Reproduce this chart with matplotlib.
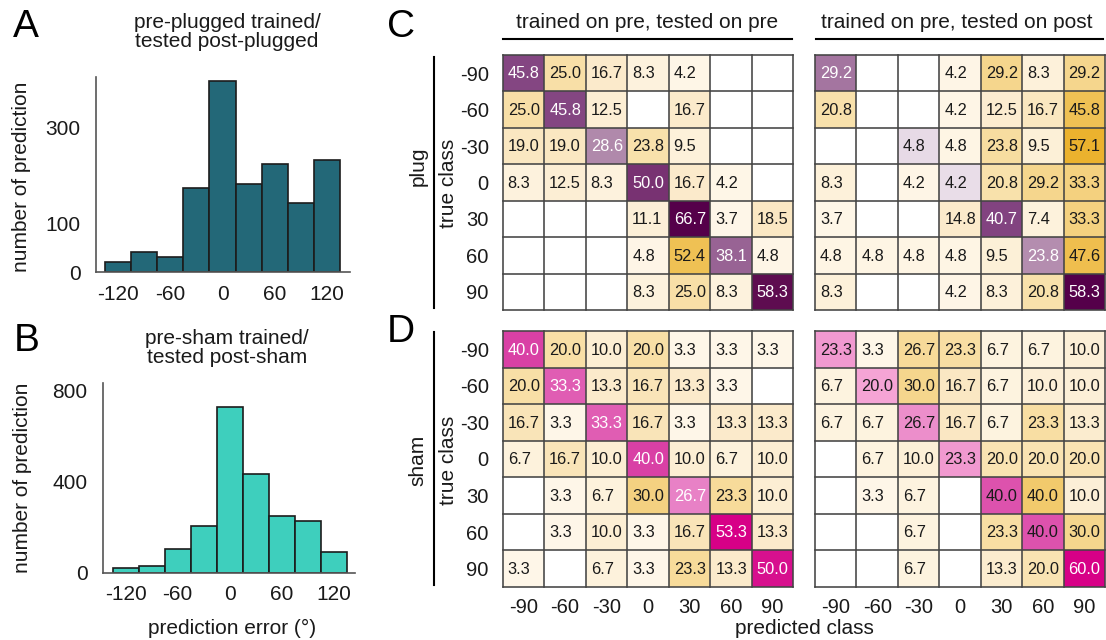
import numpy as np
import matplotlib
matplotlib.use('Agg')
import matplotlib.pyplot as plt
from matplotlib.colors import LinearSegmentedColormap, Normalize
from matplotlib.lines import Line2D

plt.rcParams['font.family'] = ['Liberation Sans', 'DejaVu Sans']

W, H = 1106, 640

# ---------------- data ----------------
hist_bins = [-120, -90, -60, -30, 0, 30, 60, 90, 120]
plug_counts = [21, 42, 31, 174, 398, 184, 224, 144, 234]
sham_counts = [22, 31, 104, 208, 728, 436, 249, 228, 94]
hist_xticks = [-120, -60, 0, 60, 120]
plug_yticks = [0, 100, 300]
sham_yticks = [0, 400, 800]

classes = [-90, -60, -30, 0, 30, 60, 90]

plug_pre = [
    [45.8, 25.0, 16.7, 8.3, 4.2, 0, 0],
    [25.0, 45.8, 12.5, 0, 16.7, 0, 0],
    [19.0, 19.0, 28.6, 23.8, 9.5, 0, 0],
    [8.3, 12.5, 8.3, 50.0, 16.7, 4.2, 0],
    [0, 0, 0, 11.1, 66.7, 3.7, 18.5],
    [0, 0, 0, 4.8, 52.4, 38.1, 4.8],
    [0, 0, 0, 8.3, 25.0, 8.3, 58.3],
]
plug_post = [
    [29.2, 0, 0, 4.2, 29.2, 8.3, 29.2],
    [20.8, 0, 0, 4.2, 12.5, 16.7, 45.8],
    [0, 0, 4.8, 4.8, 23.8, 9.5, 57.1],
    [8.3, 0, 4.2, 4.2, 20.8, 29.2, 33.3],
    [3.7, 0, 0, 14.8, 40.7, 7.4, 33.3],
    [4.8, 4.8, 4.8, 4.8, 9.5, 23.8, 47.6],
    [8.3, 0, 0, 4.2, 8.3, 20.8, 58.3],
]
sham_pre = [
    [40.0, 20.0, 10.0, 20.0, 3.3, 3.3, 3.3],
    [20.0, 33.3, 13.3, 16.7, 13.3, 3.3, 0],
    [16.7, 3.3, 33.3, 16.7, 3.3, 13.3, 13.3],
    [6.7, 16.7, 10.0, 40.0, 10.0, 6.7, 10.0],
    [0, 3.3, 6.7, 30.0, 26.7, 23.3, 10.0],
    [0, 3.3, 10.0, 3.3, 16.7, 53.3, 13.3],
    [3.3, 0, 6.7, 3.3, 23.3, 13.3, 50.0],
]
sham_post = [
    [23.3, 3.3, 26.7, 23.3, 6.7, 6.7, 10.0],
    [6.7, 20.0, 30.0, 16.7, 6.7, 10.0, 10.0],
    [6.7, 6.7, 26.7, 16.7, 6.7, 23.3, 13.3],
    [0, 6.7, 10.0, 23.3, 20.0, 20.0, 20.0],
    [0, 3.3, 6.7, 0, 40.0, 40.0, 10.0],
    [0, 0, 6.7, 0, 23.3, 40.0, 30.0],
    [0, 0, 6.7, 0, 13.3, 20.0, 60.0],
]

# ---------------- styles ----------------
off_cmap = LinearSegmentedColormap.from_list(
    'off', [(0, '#FFFAF2'), (0.125, '#FDF2DC'), (0.25, '#FBEACB'), (0.375, '#F8DFA6'),
            (0.8, '#EFC052'), (1, '#EBB02A')], N=256)
plug_cmap = LinearSegmentedColormap.from_list(
    'plug', [(0, '#F4EEF4'), (0.43, '#B088AB'), (0.7, '#824280'), (0.87, '#5E0C50'), (1, '#55004A')])
sham_cmap = LinearSegmentedColormap.from_list(
    'sham', [(0, '#FCEBF5'), (0.33, '#F5A5D5'), (0.5, '#E882C6'), (0.65, '#DE55AF'),
             (0.8, '#D737A0'), (1, '#D70087')])
grid_c = '#444444'
txt_c = '#1a1a1a'

fig = plt.figure(figsize=(W / 100, H / 100), dpi=100)


def ax_px(x0, y0, x1, y1):
    return fig.add_axes([x0 / W, 1 - y1 / H, (x1 - x0) / W, (y1 - y0) / H])


def ftext(x, y, s, **kw):
    kw.setdefault('color', txt_c)
    return fig.text(x / W, 1 - y / H, s, **kw)


def fline(xs, ys, lw=1.5):
    fig.add_artist(Line2D([x / W for x in xs], [1 - y / H for y in ys],
                          color='black', lw=lw, transform=fig.transFigure))


def hist(ax, counts, color, yticks, xlim, ylim):
    ax.bar(hist_bins, counts, width=30, color=color, edgecolor='#1c1c1c', linewidth=1.2)
    ax.set_xlim(*xlim)
    ax.set_ylim(*ylim)
    ax.set_xticks(hist_xticks)
    ax.set_xticklabels([str(t) for t in hist_xticks])
    ax.set_yticks(yticks)
    for s in ['top', 'right']:
        ax.spines[s].set_visible(False)
    for s in ['left', 'bottom']:
        ax.spines[s].set_color('#555555')
        ax.spines[s].set_linewidth(1.2)
    ax.tick_params(axis='both', length=0, labelsize=15, colors=txt_c)
    ax.tick_params(axis='x', pad=9)
    ax.tick_params(axis='y', pad=11)


def heat(ax, data, diag_cmap, white_thresh, show_x, show_y):
    M = np.array(data, float)
    n = M.shape[0]
    norm = Normalize(0, M.max())
    diag = np.eye(n, dtype=bool)
    off = np.ma.masked_where(diag | (M == 0), M)
    dg = np.ma.masked_where(~diag | (M == 0), M)
    edges = np.arange(n + 1)
    ax.pcolormesh(edges, edges, off, cmap=off_cmap, norm=norm)
    ax.pcolormesh(edges, edges, dg, cmap=diag_cmap, norm=norm)
    ax.set_xlim(0, n)
    ax.set_ylim(n, 0)
    for k in range(n + 1):
        ax.axhline(k, color=grid_c, lw=1.15, clip_on=False)
        ax.axvline(k, color=grid_c, lw=1.15, clip_on=False)
    for i in range(n):
        for j in range(n):
            v = M[i, j]
            if v > 0:
                col = 'white' if (i == j and v > white_thresh) else txt_c
                ax.text(j + 0.12, i + 0.52, f'{v:.1f}', ha='left', va='center',
                        fontsize=11.8, color=col)
    for s in ax.spines.values():
        s.set_visible(False)
    ax.set_xticks(np.arange(n) + 0.5)
    ax.set_yticks(np.arange(n) + 0.5)
    ax.set_xticklabels([str(c) for c in classes] if show_x else [])
    ax.set_yticklabels([str(c) for c in classes] if show_y else [])
    ax.tick_params(axis='both', length=0, labelsize=14.5, colors=txt_c)
    ax.tick_params(axis='x', pad=8)
    ax.tick_params(axis='y', pad=10)


# ---------------- histograms ----------------
axA = ax_px(96, 77, 350, 272)
hist(axA, plug_counts, '#236878', plug_yticks, (-145, 146), (0, 406))
axB = ax_px(103, 383, 355, 573)
hist(axB, sham_counts, '#3ECFBD', sham_yticks, (-146, 144), (0, 834))

ftext(227, 32, 'pre-plugged trained/\ntested post-plugged', ha='center', va='center',
      fontsize=15, linespacing=0.95)
ftext(227, 348, 'pre-sham trained/\ntested post-sham', ha='center', va='center',
      fontsize=15, linespacing=0.95)
ftext(22, 177, 'number of prediction', rotation=90, ha='center', va='center', fontsize=15)
ftext(23, 478, 'number of prediction', rotation=90, ha='center', va='center', fontsize=15)
ftext(232, 628, 'prediction error (°)', ha='center', va='center', fontsize=15)

# ---------------- heatmaps ----------------
axC1 = ax_px(502.7, 55, 793.3, 310)
heat(axC1, plug_pre, plug_cmap, 20, False, True)
axC2 = ax_px(815, 55, 1105, 310)
heat(axC2, plug_post, plug_cmap, 20, False, False)
axD1 = ax_px(502.7, 331, 793.3, 587)
heat(axD1, sham_pre, sham_cmap, 20, True, True)
axD2 = ax_px(815, 331, 1105, 587)
heat(axD2, sham_post, sham_cmap, 50, True, False)

ftext(647, 23, 'trained on pre, tested on pre', ha='center', va='center', fontsize=15)
ftext(957, 23, 'trained on pre, tested on post', ha='center', va='center', fontsize=15)
fline([503, 792], [39, 39])
fline([816, 1103], [39, 39])
fline([434, 434], [57, 308])
fline([434, 434], [332, 585])

ftext(448, 183, 'true class', rotation=90, ha='center', va='center', fontsize=15)
ftext(448, 460, 'true class', rotation=90, ha='center', va='center', fontsize=15)
ftext(418, 166, 'plug', rotation=90, ha='center', va='center', fontsize=15)
ftext(418, 460, 'sham', rotation=90, ha='center', va='center', fontsize=15)
ftext(804, 628, 'predicted class', ha='center', va='center', fontsize=15)

# panel letters
for x, y, s in [(26, 27, 'A'), (27, 341, 'B'), (401, 27, 'C'), (401, 332, 'D')]:
    ftext(x, y, s, ha='center', va='center', fontsize=28, color='black')

fig.savefig('out.png', dpi=100)
